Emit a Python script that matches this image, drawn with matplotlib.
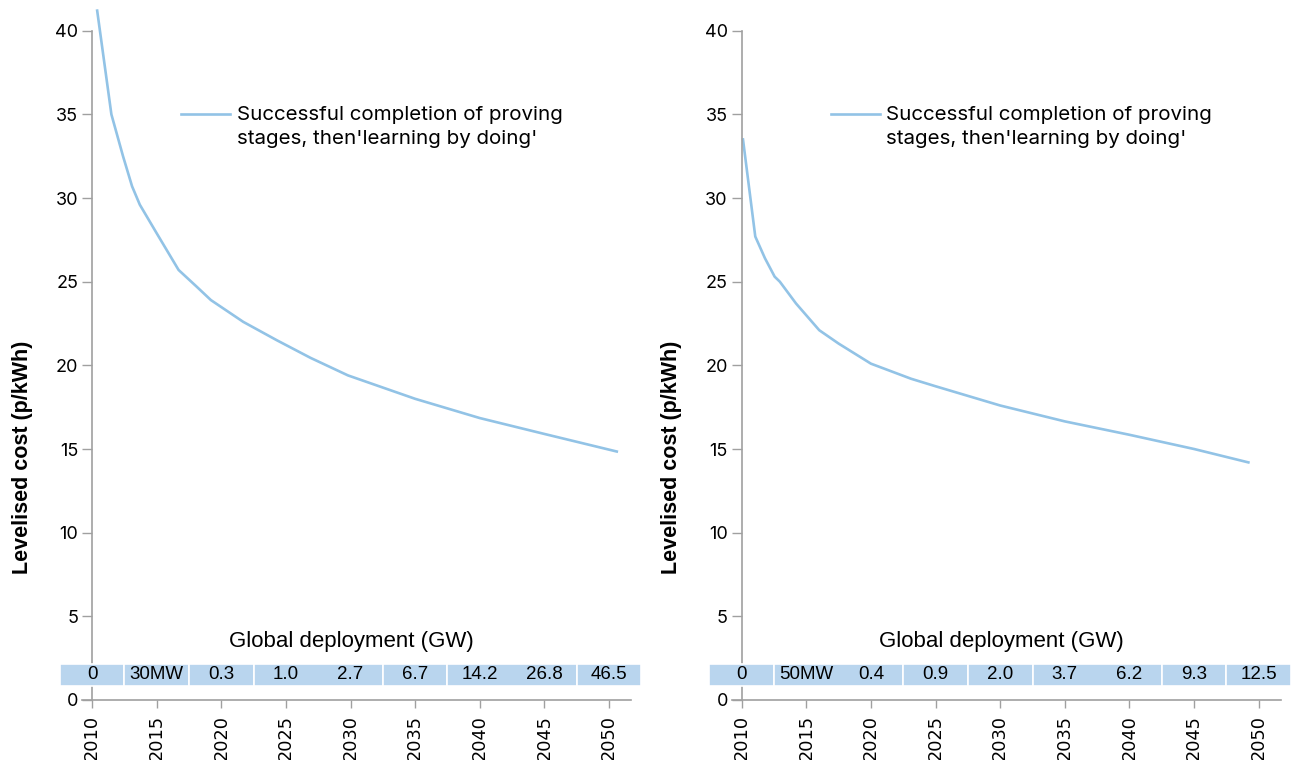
import matplotlib.pyplot as plt
from matplotlib.patches import Rectangle

# levelised cost curves
left_years = [2010.4, 2011.5, 2012.4, 2013.1, 2013.7, 2015.0, 2016.7, 2018.1, 2019.2,
              2021.7, 2024.3, 2026.9, 2029.8, 2035.0, 2040.0, 2045.0, 2050.6]
left_cost = [41.2, 35.0, 32.5, 30.7, 29.6, 27.9, 25.7, 24.7, 23.9,
             22.6, 21.5, 20.45, 19.4, 18.0, 16.85, 15.9, 14.85]

right_years = [2010.1, 2011.05, 2011.8, 2012.55, 2012.95, 2014.2, 2016.0, 2017.5, 2020.0,
               2023.1, 2025.0, 2030.0, 2035.0, 2040.0, 2045.0, 2049.2]
right_cost = [33.5, 27.7, 26.4, 25.3, 25.0, 23.7, 22.1, 21.3, 20.1,
              19.2, 18.75, 17.6, 16.65, 15.85, 15.0, 14.2]

# global deployment band
band_years = [2010, 2015, 2020, 2025, 2030, 2035, 2040, 2045, 2050]
left_deploy = ['0', '30MW', '0.3', '1.0', '2.7', '6.7', '14.2', '26.8', '46.5']
left_cells = [2007.5, 2012.5, 2017.5, 2022.5, 2032.5, 2037.5, 2047.5, 2052.5]
right_deploy = ['0', '50MW', '0.4', '0.9', '2.0', '3.7', '6.2', '9.3', '12.5']
right_cells = [2007.5, 2012.5, 2022.5, 2027.5, 2032.5, 2042.5, 2047.5, 2052.5]

legend_text = "Successful completion of proving\nstages, then'learning by doing'"
line_color = '#92c3e6'
band_color = '#b9d5ee'
axis_color = '#a0a0a0'

plt.rcParams['font.family'] = ['Liberation Sans', 'DejaVu Sans']

fig = plt.figure(figsize=(12.91, 7.6), dpi=100)
ax_l = fig.add_axes([92 / 1291, 60 / 760, 539 / 1291, 669.3 / 760])
ax_r = fig.add_axes([741.7 / 1291, 60 / 760, 539 / 1291, 669.3 / 760])


def draw_panel(ax, years, cost, deploy, cells):
    ax.plot(years, cost, color=line_color, lw=1.9, clip_on=False,
            solid_joinstyle='round')
    ax.set_xlim(2010, 2051.7)
    ax.set_ylim(0, 40)
    ax.set_yticks(range(0, 41, 5))
    ax.set_xticks(band_years)
    ax.tick_params(axis='x', labelrotation=90, length=6, width=1,
                   color=axis_color, pad=5, labelsize=12.8,
                   labelfontfamily='DejaVu Sans')
    ax.tick_params(axis='y', length=7, width=1, color=axis_color, pad=3,
                   labelsize=13, labelfontfamily='Inter')
    for s in ['top', 'right']:
        ax.spines[s].set_visible(False)
    for s in ['left', 'bottom']:
        ax.spines[s].set_color(axis_color)
        ax.spines[s].set_linewidth(1.2)
    ax.spines['bottom'].set_bounds(2009.25, 2051.7)
    ax.set_ylabel('Levelised cost (p/kWh)', fontsize=15.5, fontweight='bold')
    ax.yaxis.set_label_coords(-0.11, 0.363)

    # deployment band cells
    for i in range(len(cells) - 1):
        ax.add_patch(Rectangle((cells[i], 0.84), cells[i + 1] - cells[i], 1.31,
                               facecolor=band_color, edgecolor='white', lw=1.2,
                               clip_on=False, zorder=3))
    for yr, lab in zip(band_years, deploy):
        ax.text(yr, 1.5, lab, ha='center', va='center', fontsize=13.5,
                zorder=4)
    ax.text(2030.1, 3.5, 'Global deployment (GW)', ha='center', va='center',
            fontsize=16)

    # legend-like label
    ax.plot([2016.9, 2020.7], [35.0, 35.0], color=line_color, lw=1.9)
    ax.text(2021.2, 34.25, legend_text, ha='left', va='center', fontsize=14.8,
            linespacing=1.45, family=['Inter', 'DejaVu Sans'])


draw_panel(ax_l, left_years, left_cost, left_deploy, left_cells)
draw_panel(ax_r, right_years, right_cost, right_deploy, right_cells)

fig.savefig('out.png', dpi=100)
